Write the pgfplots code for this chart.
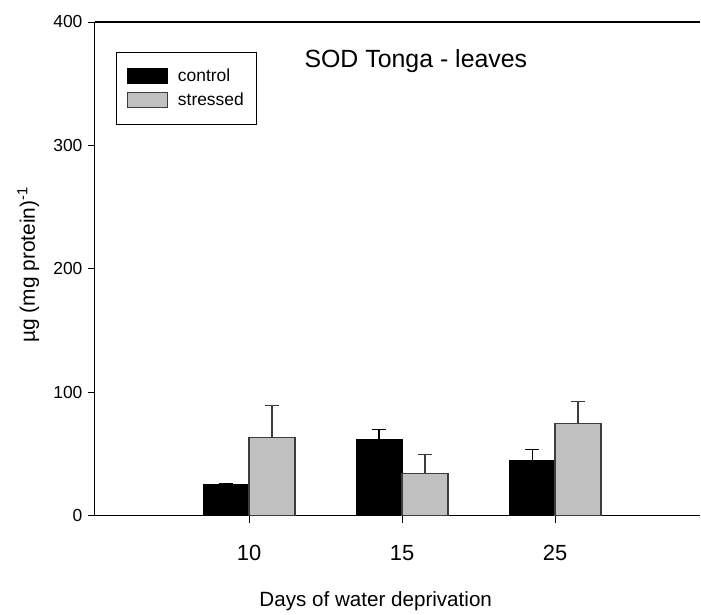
\documentclass[border=0pt]{standalone}
\usepackage{pgfplots}
\pgfplotsset{compat=1.18}
\usepackage{fontspec}
\setmainfont{Liberation Sans}
\definecolor{barGray}{HTML}{C0C0C0}
\definecolor{edgeGray}{HTML}{3C3C3C}
\pgfplotsset{barlegend/.style={legend image code/.code={\draw[##1, line width=1bp] (0bp,-7.5bp) rectangle (40bp,7.5bp);}}}
\begin{document}
\begin{tikzpicture}
\begin{axis}[
 name=ax,
 scale only axis, width=606bp, height=494bp,
 xmin=-1.007, xmax=2.95, ymin=0, ymax=400,
 axis x line*=bottom, axis y line*=left,
 clip=false,
 xtick={0,1,2}, xticklabels={10,15,25},
 ytick={0,100,200,300,400},
 tick align=outside, major tick length=7bp,
 tick style={black, line width=0.9bp},
 axis line style={black, line width=1.1bp},
 x tick label style={font=\fontsize{22}{26}\selectfont, yshift=-19bp},
 y tick label style={font=\fontsize{17.5}{20}\selectfont, xshift=-2bp},
 /pgf/number format/assume math mode=true,
 xlabel={Days of water deprivation},
 xlabel style={font=\fontsize{20.7}{24}\selectfont, at={(axis description cs:0.4637,-0.184)}, anchor=base},
 ylabel={µg (mg protein)\textsuperscript{-1}},
 ylabel style={font=\fontsize{21}{25}\selectfont, at={(axis description cs:-0.110,0.508)}, anchor=center},
 legend style={at={(axis description cs:0.034,0.940)}, anchor=north west, draw=black, line width=1bp, fill=white,
   font=\fontsize{17.5}{21}\selectfont, inner xsep=11bp, inner ysep=15bp, row sep=6bp, column sep=8bp},
 legend cell align=left,
]
\addplot[ybar, bar width=0.3, bar shift=0, fill=black, draw=black, line width=1bp, barlegend,
  error bars/.cd, y dir=plus, y explicit,
  error bar style={black, line width=1.2bp},
  error mark options={black, line width=1.2bp, mark size=7bp, rotate=90}]
  coordinates {(-0.15,25) +- (0,1) (0.85,62) +- (0,8) (1.85,44.6) +- (0,8.7)};
\addplot[ybar, bar width=0.3, bar shift=0, fill=barGray, draw=edgeGray, line width=1.2bp, barlegend,
  error bars/.cd, y dir=plus, y explicit,
  error bar style={edgeGray, line width=1.2bp},
  error mark options={edgeGray, line width=1.2bp, mark size=7bp, rotate=90}]
  coordinates {(0.15,63.3) +- (0,25.7) (1.15,34) +- (0,15.5) (2.15,74.6) +- (0,17.9)};
\legend{control,stressed}
\draw[black, line width=1.1bp] (rel axis cs:0,1) -- (rel axis cs:1,1);
\node[font=\fontsize{25}{29}\selectfont, anchor=base] at (axis description cs:0.53,0.907) {SOD Tonga - leaves};
\end{axis}
\path ([shift={(-95bp,-96bp)}]ax.south west) rectangle ([shift={(0bp,22bp)}]ax.north east);
\end{tikzpicture}
\end{document}
